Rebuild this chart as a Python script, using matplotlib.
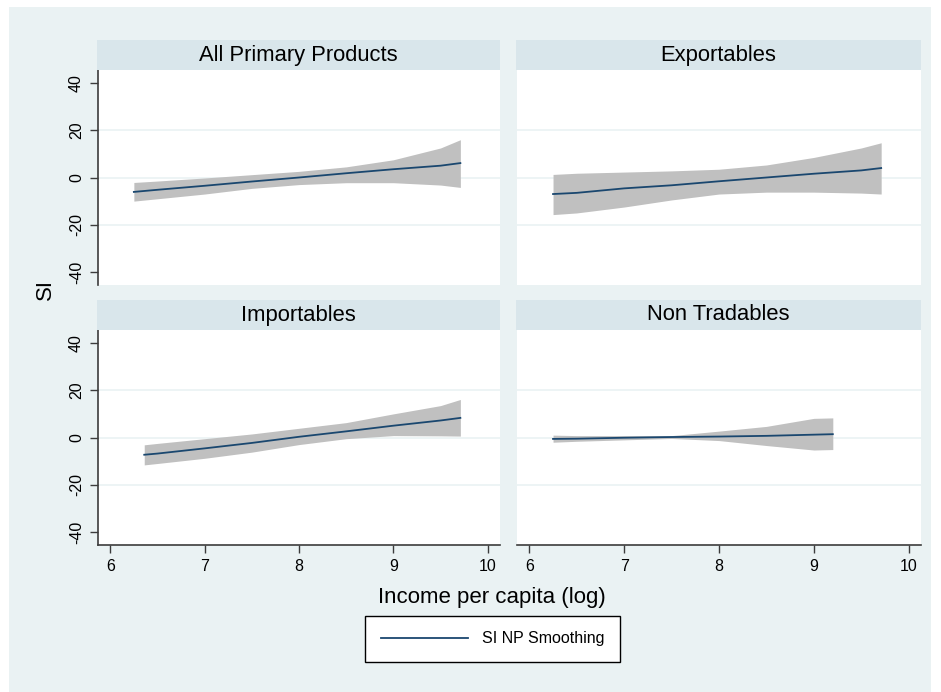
import numpy as np
import matplotlib.pyplot as plt
from matplotlib.patches import Rectangle
from matplotlib.lines import Line2D

plt.rcParams['font.family'] = ['Liberation Sans', 'DejaVu Sans']
plt.rcParams['axes.unicode_minus'] = False

# panel data (x = log income per capita)
titles = ["All Primary Products", "Exportables", "Importables", "Non Tradables"]

x_all = [6.25, 6.5, 7.0, 7.5, 8.0, 8.5, 9.0, 9.5, 9.71]
fit_all = [-6.1, -5.2, -3.5, -1.7, 0.0, 1.8, 3.5, 5.0, 6.1]
hi_all = [-2.1, -1.5, -0.2, 1.2, 2.6, 4.5, 7.5, 12.5, 16.0]
lo_all = [-10.0, -9.0, -7.0, -4.6, -3.0, -2.2, -2.2, -3.2, -4.2]

x_exp = [6.25, 6.5, 7.0, 7.5, 8.0, 8.5, 9.0, 9.5, 9.71]
fit_exp = [-7.0, -6.5, -4.6, -3.3, -1.6, 0.0, 1.6, 3.0, 4.0]
hi_exp = [1.3, 1.8, 2.3, 2.8, 3.5, 5.3, 8.5, 12.5, 14.7]
lo_exp = [-15.7, -15.0, -12.5, -9.5, -7.0, -6.2, -6.2, -6.6, -7.0]

x_imp = [6.36, 6.5, 7.0, 7.5, 8.0, 8.5, 9.0, 9.5, 9.71]
fit_imp = [-7.3, -6.8, -4.6, -2.3, 0.3, 2.6, 5.0, 7.2, 8.3]
hi_imp = [-3.1, -2.5, -0.5, 1.5, 3.9, 6.3, 10.0, 13.5, 16.1]
lo_imp = [-11.6, -11.0, -8.8, -6.2, -3.0, -0.5, 0.8, 0.7, 0.6]

x_non = [6.25, 6.5, 7.0, 7.5, 8.0, 8.5, 9.0, 9.2]
fit_non = [-0.6, -0.5, -0.1, 0.2, 0.4, 0.7, 1.2, 1.4]
hi_non = [1.0, 0.8, 0.8, 0.8, 2.7, 4.7, 8.1, 8.3]
lo_non = [-2.0, -1.6, -1.0, -0.4, -1.3, -3.4, -5.3, -5.1]

panels = [(x_all, fit_all, hi_all, lo_all), (x_exp, fit_exp, hi_exp, lo_exp),
          (x_imp, fit_imp, hi_imp, lo_imp), (x_non, fit_non, hi_non, lo_non)]

xticks = [6, 7, 8, 9, 10]
yticks = [-40, -20, 0, 20, 40]

bg = '#eaf2f3'
strip_col = '#d9e6eb'
line_col = '#1a476f'
band_col = '#c0c0c0'
axis_col = '#3c3c3c'

W, H = 941, 692
fig = plt.figure(figsize=(W / 100, H / 100), dpi=100, facecolor='white')
fig.patches.append(Rectangle((9 / W, 0), 922 / W, 1 - 7 / H, transform=fig.transFigure,
                             facecolor=bg, edgecolor='none', zorder=-10))

# pixel boxes of plot areas (left, right, top, bottom)
boxes = [(98, 500, 70, 285), (517, 921, 70, 285), (98, 500, 330, 545), (517, 921, 330, 545)]

for i, (x, fit, hi, lo) in enumerate(panels):
    l, r, t, b = boxes[i]
    ax = fig.add_axes([l / W, 1 - b / H, (r - l) / W, (b - t) / H])
    ax.set_facecolor('white')
    ax.fill_between(x, lo, hi, color=band_col, linewidth=0, zorder=2)
    ax.plot(x, fit, color=line_col, linewidth=1.3, zorder=3)
    for g in [-20, 0, 20]:
        ax.axhline(g, color=bg, linewidth=1.2, zorder=1)
    ax.set_xlim(5.87, 10.13)
    ax.set_ylim(-45.5, 45.5)
    for s in ax.spines.values():
        s.set_visible(False)
    ax.set_xticks(xticks)
    ax.set_yticks(yticks)
    left = i in (0, 2)
    bottom = i in (2, 3)
    if left:
        ax.spines['left'].set_visible(True)
        ax.spines['left'].set_color(axis_col)
        ax.spines['left'].set_linewidth(1.2)
        ax.tick_params(axis='y', length=6, width=1, color=axis_col, pad=4, labelsize=11.5)
        for lab in ax.get_yticklabels():
            lab.set_rotation(90)
            lab.set_va('center')
    else:
        ax.tick_params(axis='y', left=False, labelleft=False)
    if bottom:
        ax.spines['bottom'].set_visible(True)
        ax.spines['bottom'].set_color(axis_col)
        ax.spines['bottom'].set_linewidth(1.2)
        ax.tick_params(axis='x', length=6, width=1, color=axis_col, pad=4, labelsize=11.5)
    else:
        ax.tick_params(axis='x', bottom=False, labelbottom=False)

    # strip title above the panel
    sax = fig.add_axes([(l - 1) / W, 1 - t / H, (r - l + 1) / W, 30 / H])
    sax.set_facecolor(strip_col)
    sax.set_xticks([])
    sax.set_yticks([])
    for s in sax.spines.values():
        s.set_visible(False)
    sax.text(0.5, 0.5, titles[i], ha='center', va='center', fontsize=15.8,
             transform=sax.transAxes)

fig.text(45 / W, 1 - 290 / H, 'SI', rotation=90, ha='center', va='center', fontsize=16)
fig.text(492 / W, 1 - 597 / H, 'Income per capita (log)', ha='center', va='center', fontsize=16)

handle = Line2D([], [], color=line_col, linewidth=1.3)
leg = fig.legend([handle], ['SI NP Smoothing'], loc='center', bbox_to_anchor=(492.5 / W, 1 - 639 / H),
                 fontsize=11.5, handlelength=5.5, handletextpad=0.85, borderpad=0.95,
                 fancybox=False, frameon=True, framealpha=1, borderaxespad=0)
leg.get_frame().set_edgecolor('black')
leg.get_frame().set_linewidth(1.0)
leg.get_frame().set_facecolor('white')

fig.savefig('out.png', dpi=100, facecolor='white')
